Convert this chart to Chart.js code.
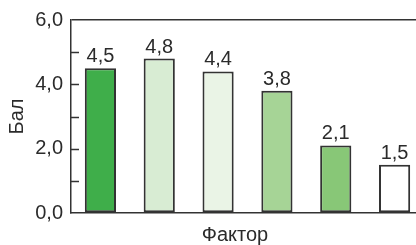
<!DOCTYPE html>
<html lang="ru">
<head>
<meta charset="UTF-8">
<title>Бал по факторам</title>
<script src="https://cdn.jsdelivr.net/npm/chart.js"></script>
<style>
  html, body { margin: 0; padding: 0; background: #fff; overflow: hidden; }
  .graph-container { width: 424px; height: 245px; }
</style>
</head>
<body>
<div class="graph-container">
  <canvas id="myChartCanvas" width="424" height="245"></canvas>
</div>
<script>
// dados
const fatores = ['1', '2', '3', '4', '5', '6'];
const valores = [4.5, 4.8, 4.4, 3.8, 2.1, 1.5];
const cores = ['#3fae4a', '#d8ecd3', '#eaf4e6', '#a6d496', '#88c777', '#ffffff'];
const ticksY = [0, 1, 2, 3, 4, 5, 6];

const fonte = '"Liberation Sans", Arial, sans-serif';
const corTexto = '#2b2b2b';

function virgula(v) {
  return v.toFixed(1).replace('.', ',');
}

// rótulos em cima das barras + traços internos + título do eixo x
const extras = {
  id: 'extras',
  afterDatasetsDraw(chart) {
    const ctx = chart.ctx;
    const y = chart.scales.y;
    const area = chart.chartArea;
    ctx.save();
    ctx.strokeStyle = '#333';
    ctx.lineWidth = 1.5;
    ticksY.forEach(v => {
      if (v === 0 || v === 6) return;
      const py = Math.round(y.getPixelForValue(v)) + 0.5;
      ctx.beginPath();
      ctx.moveTo(area.left, py);
      ctx.lineTo(area.left + 8, py);
      ctx.stroke();
    });
    ctx.fillStyle = corTexto;
    ctx.font = '20px ' + fonte;
    ctx.textAlign = 'center';
    ctx.textBaseline = 'alphabetic';
    chart.getDatasetMeta(0).data.forEach((bar, i) => {
      ctx.fillText(virgula(valores[i]), bar.x, bar.y - 6);
    });
    ctx.fillText('Фактор', 235, 241);
    ctx.restore();
  }
};

const ctx = document.getElementById('myChartCanvas').getContext('2d');
new Chart(ctx, {
  type: 'bar',
  data: {
    labels: fatores,
    datasets: [{
      label: 'Бал',
      data: valores,
      backgroundColor: cores,
      borderColor: '#333',
      borderWidth: 2,
      borderSkipped: false,
      barPercentage: 0.53,
      categoryPercentage: 1
    }]
  },
  options: {
    responsive: false,
    animation: false,
    devicePixelRatio: 1,
    layout: { padding: { top: 20, bottom: 32, right: 0, left: 0 } },
    plugins: { legend: { display: false }, tooltip: { enabled: false } },
    scales: {
      x: {
        afterFit(scale) { scale.height = 0; },
        ticks: { display: false },
        grid: { display: false },
        border: { display: true, color: '#333', width: 1.5 }
      },
      y: {
        min: 0,
        max: 6,
        afterFit(scale) { scale.width = 71; },
        ticks: {
          stepSize: 1,
          padding: 8,
          color: corTexto,
          font: { family: fonte, size: 20 },
          callback: v => (v % 2 === 0 ? virgula(v) : '')
        },
        grid: {
          drawTicks: false,
          color: c => (c.tick && c.tick.value === 6 ? '#333' : 'transparent'),
          lineWidth: 1.5
        },
        border: { display: true, color: '#333', width: 1.5 },
        title: {
          display: true,
          text: 'Бал',
          color: corTexto,
          font: { family: fonte, size: 20 },
          padding: { top: 5, bottom: 0 }
        }
      }
    }
  },
  plugins: [extras]
});
</script>
</body>
</html>
